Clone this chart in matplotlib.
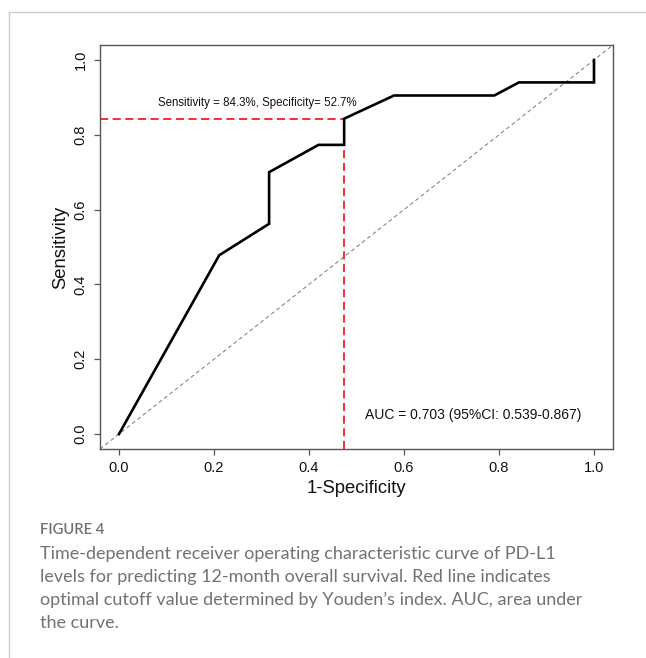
import matplotlib
matplotlib.use("Agg")
import matplotlib.pyplot as plt
from matplotlib.lines import Line2D

# ---- data ----
fpr = [0.0, 0.211, 0.316, 0.316, 0.42, 0.474, 0.474, 0.579, 0.79, 0.842, 1.0, 1.0]
tpr = [0.0, 0.478, 0.562, 0.70, 0.773, 0.773, 0.843, 0.905, 0.905, 0.94, 0.94, 1.0]
cut_x = 0.473
cut_y = 0.843
ticks = [0.0, 0.2, 0.4, 0.6, 0.8, 1.0]
tick_labels = ["0.0", "0.2", "0.4", "0.6", "0.8", "1.0"]
cut_text = "Sensitivity = 84.3%, Specificity= 52.7%"
auc_text = "AUC = 0.703 (95%CI: 0.539-0.867)"
xlabel = "1-Specificity"
ylabel = "Sensitivity"
fig_label = "FIGURE 4"
caption_lines = [
    "Time-dependent receiver operating characteristic curve of PD-L1",
    "levels for predicting 12-month overall survival. Red line indicates",
    "optimal cutoff value determined by Youden\u2019s index. AUC, area under",
    "the curve.",
]

W, H = 646, 658
fig = plt.figure(figsize=(W / 100, H / 100), dpi=100)
fig.patch.set_facecolor("white")

left, right, top, bottom = 100, 613, 45, 449
ax = fig.add_axes([left / W, 1 - bottom / H, (right - left) / W, (bottom - top) / H])
ax.set_xlim(-0.04, 1.04)
ax.set_ylim(-0.04, 1.04)

plot_font = "Liberation Sans"
frame_col = "#555555"

# diagonal reference
ax.plot([-0.04, 1.04], [-0.04, 1.04], color="#777777", lw=0.7, ls=(0, (4, 3)))
# cutoff lines
ax.plot([-0.04, cut_x], [cut_y, cut_y], color="#ff1a1a", lw=1.3, ls=(0, (4.5, 2.5)))
ax.plot([cut_x, cut_x], [-0.04, cut_y], color="#ff1a1a", lw=1.3, ls=(0, (4.5, 2.5)))
# ROC curve
ax.plot(fpr, tpr, color="black", lw=1.9, solid_joinstyle="miter")

ax.text(0.291, 0.884, cut_text, ha="center", va="center", fontsize=8.3,
        family=plot_font, color="#111111")
ax.text(0.745, 0.052, auc_text, ha="center", va="center", fontsize=10.0,
        family=plot_font, color="#111111")

ax.set_xticks(ticks)
ax.set_xticklabels(tick_labels)
ax.set_yticks(ticks)
ax.set_yticklabels(tick_labels, rotation=90, va="center")
for lab in ax.get_xticklabels() + ax.get_yticklabels():
    lab.set_family(plot_font)
    lab.set_fontsize(10.5)
    lab.set_color("#111111")
ax.tick_params(axis="both", direction="out", length=4, width=0.9, color=frame_col)
ax.tick_params(axis="x", pad=5)
ax.tick_params(axis="y", pad=5)
for sp in ax.spines.values():
    sp.set_color(frame_col)
    sp.set_linewidth(1.0)

ax.set_xlabel(xlabel, family=plot_font, fontsize=13.3, color="#111111", labelpad=3)
ax.set_ylabel(ylabel, family=plot_font, fontsize=13.3, color="#111111", labelpad=3)

# page border lines
fig.add_artist(Line2D([9 / W, 1.0], [1 - 12 / H, 1 - 12 / H], color="#cccccc", lw=1.0))
fig.add_artist(Line2D([9 / W, 9 / W], [1 - 12 / H, 0.0], color="#cccccc", lw=1.0))

# caption
cap_font = "Lato"
cap_col = "#727272"
fig.text(40 / W, 1 - 530 / H, fig_label, ha="left", va="center", fontsize=10.6,
         family=cap_font, weight="semibold", color=cap_col)
ys = [554, 577, 600, 623]
for yy, line in zip(ys, caption_lines):
    fig.text(40 / W, 1 - yy / H, line, ha="left", va="center", fontsize=13.0,
             family=cap_font, color=cap_col)

fig.savefig("out.png", dpi=100, facecolor="white")
